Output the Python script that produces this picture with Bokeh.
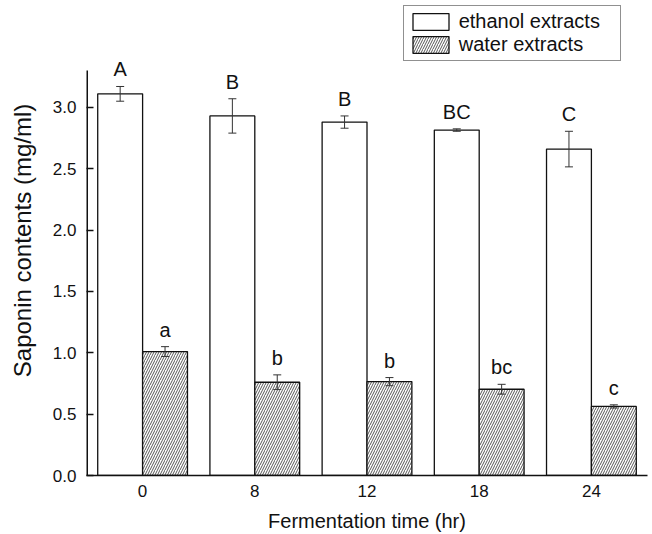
from bokeh.plotting import figure
from bokeh.models import (ColumnDataSource, FactorRange, Range1d, Legend, LegendItem, Whisker,
                          TeeHead, FixedTicker, CustomJSTickFormatter)
from bokeh.transform import dodge
from bokeh.core.properties import value
from bokeh.embed import file_html
from bokeh.resources import INLINE

times = ["0", "8", "12", "18", "24"]
ethanol = [3.11, 2.93, 2.88, 2.815, 2.66]
ethanol_err = [0.06, 0.14, 0.05, 0.01, 0.145]
ethanol_letters = ["A", "B", "B", "BC", "C"]
water = [1.01, 0.76, 0.765, 0.703, 0.563]
water_err = [0.04, 0.06, 0.033, 0.04, 0.013]
water_letters = ["a", "b", "b", "bc", "c"]
y_ticks = [0.0, 0.5, 1.0, 1.5, 2.0, 2.5, 3.0]
y_axis_top = 3.3

FONT = "Liberation Sans"
TXT = "#111111"

src = ColumnDataSource(dict(
    t=times,
    eth=ethanol, eth_up=[m + e for m, e in zip(ethanol, ethanol_err)],
    eth_lo=[m - e for m, e in zip(ethanol, ethanol_err)], eth_lab=ethanol_letters,
    wat=water, wat_up=[m + e for m, e in zip(water, water_err)],
    wat_lo=[m - e for m, e in zip(water, water_err)], wat_lab=water_letters,
))

p = figure(width=652, height=534, output_backend="svg", toolbar_location=None,
           x_range=FactorRange(*times, range_padding=0), y_range=Range1d(0, 3.83),
           min_border_left=86, min_border_right=5, min_border_top=5, min_border_bottom=57)
p.outline_line_color = None
p.xgrid.visible = False
p.ygrid.visible = False
p.background_fill_color = "white"
p.border_fill_color = "white"

r_eth = p.vbar(x=dodge("t", -0.2, range=p.x_range), top="eth", width=0.4, source=src,
               fill_color="white", line_color="#111111", line_width=1.3)
r_wat = p.vbar(x=dodge("t", 0.2, range=p.x_range), top="wat", width=0.4, source=src,
               fill_color="white", line_color="#111111", line_width=1.3,
               hatch_pattern="/", hatch_scale=5, hatch_weight=0.9, hatch_color="#444444")

for col, off in (("eth", -0.2), ("wat", 0.2)):
    w = Whisker(base=dodge("t", off, range=p.x_range), upper=col + "_up", lower=col + "_lo",
                source=src, line_color="#333333", line_width=1, level="overlay")
    w.upper_head = TeeHead(size=8, line_color="#333333", line_width=1)
    w.lower_head = TeeHead(size=8, line_color="#333333", line_width=1)
    p.add_layout(w)
    p.text(x=dodge("t", off, range=p.x_range), y=col + "_up", text=col + "_lab", source=src,
           y_offset=-6, text_align="center", text_baseline="bottom",
           text_font=value(FONT), text_font_size="20px", text_color=TXT)

# left axis line only up to the top of the drawn axis
axsrc = ColumnDataSource(dict(t=[times[0]], y0=[0.0], y1=[y_axis_top]))
p.segment(x0=dodge("t", -0.5, range=p.x_range), x1=dodge("t", -0.5, range=p.x_range),
          y0="y0", y1="y1", source=axsrc, line_color="#111111", line_width=3)

for ax in (p.xaxis[0], p.yaxis[0]):
    ax.axis_line_color = "#111111"
    ax.axis_line_width = 1.5
    ax.major_label_text_font = FONT
    ax.major_label_text_font_size = "17px"
    ax.major_label_text_color = TXT
    ax.axis_label_text_font = FONT
    ax.axis_label_text_font_size = "20px"
    ax.axis_label_text_font_style = "normal"
    ax.axis_label_text_color = TXT
    ax.minor_tick_line_color = None
    ax.major_label_standoff = 9

p.xaxis.axis_label = "Fermentation time (hr)"
p.xaxis.major_tick_line_color = None
p.xaxis.major_tick_in = 0
p.xaxis.major_tick_out = 0
p.xaxis.axis_label_standoff = 10

p.yaxis.axis_label = "Saponin contents (mg/ml)"
p.yaxis.axis_line_color = None
p.yaxis.ticker = FixedTicker(ticks=y_ticks)
p.yaxis.major_tick_in = 7
p.yaxis.major_tick_out = 0
p.yaxis.major_tick_line_color = "#111111"
p.yaxis.major_tick_line_width = 1.3
p.yaxis.major_label_standoff = 10
p.yaxis.axis_label_standoff = 14
p.yaxis.axis_label_text_font_size = "24px"
p.yaxis.formatter = CustomJSTickFormatter(code="return tick.toFixed(1);")

legend = Legend(items=[LegendItem(label="ethanol extracts", renderers=[r_eth]),
                       LegendItem(label="water extracts", renderers=[r_wat])],
                location=(316.7, 414), orientation="vertical",
                glyph_width=45, glyph_height=21, label_standoff=6, label_width=157,
                padding=4, spacing=0, margin=0,
                label_text_font=FONT, label_text_font_size="20px", label_text_color=TXT,
                border_line_color="#222222", border_line_width=1,
                background_fill_color="white", background_fill_alpha=1)
p.add_layout(legend)

open("out.html", "w").write(file_html(p, INLINE))
